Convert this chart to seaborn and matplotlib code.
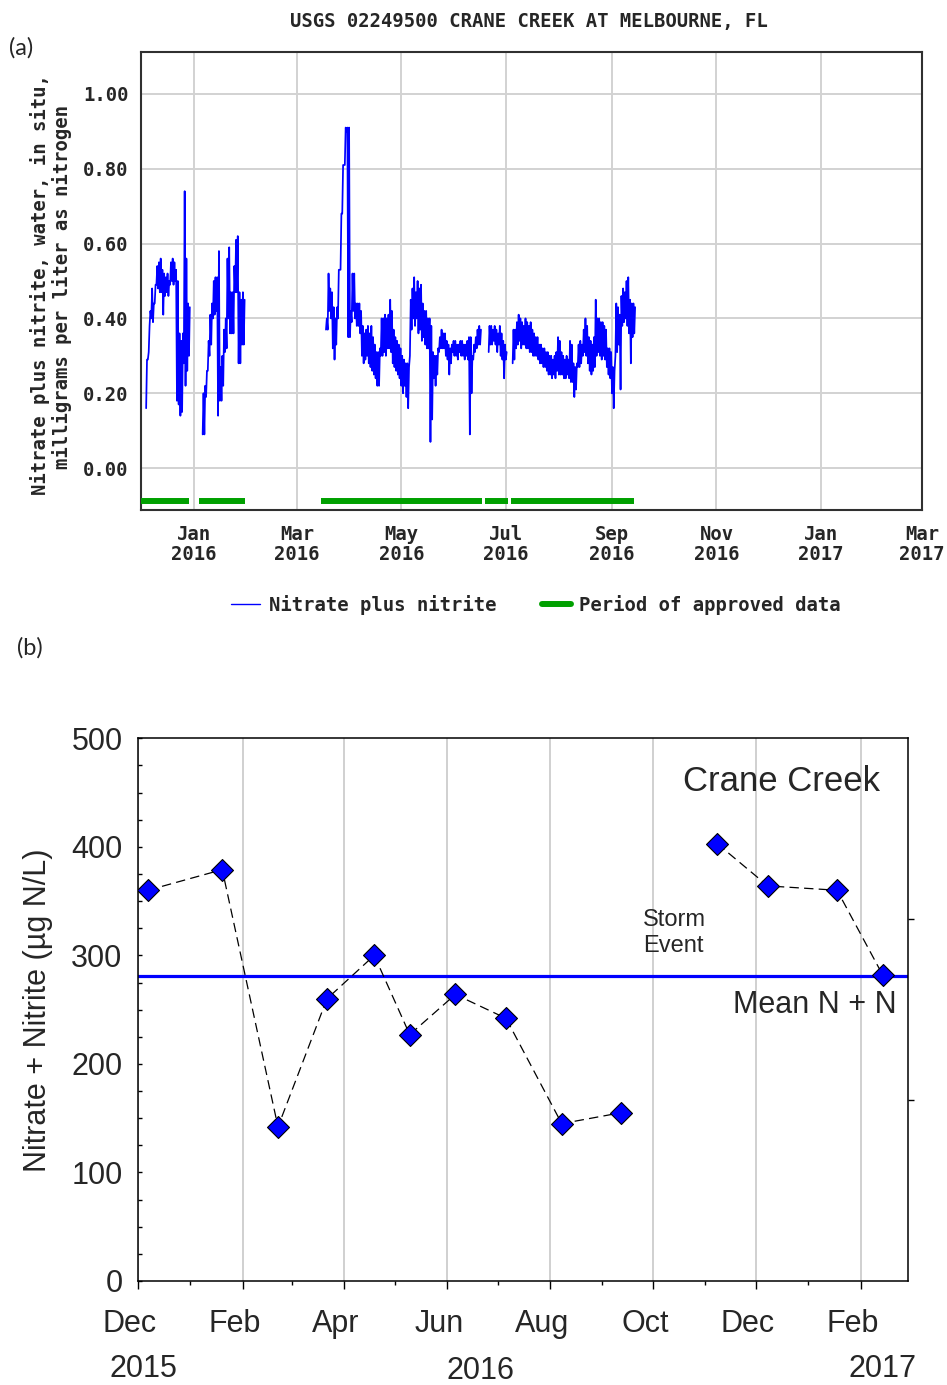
import matplotlib
matplotlib.use("Agg")
import matplotlib.pyplot as plt
import matplotlib.transforms as mtransforms
from matplotlib.lines import Line2D
from matplotlib.ticker import FixedLocator, NullFormatter, MultipleLocator
import pandas as pd
import seaborn as sns

# ============ Panel (a): USGS continuous nitrate + nitrite record ============
site_title = "USGS 02249500 CRANE CREEK AT MELBOURNE, FL"
ylabel_a = ["Nitrate plus nitrite, water, in situ,", "milligrams per liter as nitrogen"]

# daily low / high of the 15-minute record (mg/L as N), one entry per day
seg_starts = ["2015-12-04", "2016-01-06", "2016-03-18", "2016-06-21", "2016-07-05"]

seg1_low = [0.16, 0.29, 0.38, 0.40, 0.39, 0.44, 0.49, 0.48, 0.47, 0.47, 0.41, 0.46, 0.47,
            0.46, 0.49, 0.50, 0.49, 0.50, 0.18, 0.17, 0.14, 0.15, 0.28, 0.22, 0.26, 0.30]
seg1_high = [0.29, 0.31, 0.42, 0.48, 0.44, 0.49, 0.54, 0.55, 0.56, 0.53, 0.52, 0.51, 0.52,
             0.50, 0.55, 0.56, 0.55, 0.53, 0.50, 0.36, 0.34, 0.36, 0.74, 0.56, 0.44, 0.43]

seg2_low = [0.09, 0.09, 0.19, 0.26, 0.30, 0.33, 0.40, 0.41, 0.42, 0.14, 0.18, 0.18, 0.22,
            0.31, 0.32, 0.40, 0.36, 0.36, 0.36, 0.47, 0.47, 0.28, 0.28, 0.33, 0.33]
seg2_high = [0.20, 0.22, 0.26, 0.34, 0.41, 0.44, 0.50, 0.51, 0.51, 0.58, 0.27, 0.30, 0.37,
             0.40, 0.56, 0.59, 0.47, 0.47, 0.54, 0.61, 0.62, 0.47, 0.45, 0.47, 0.45]

seg3_low = [0.37, 0.37, 0.42, 0.40, 0.32, 0.29, 0.33, 0.40, 0.53, 0.68, 0.81, 0.81, 0.90,
            0.35, 0.35, 0.39, 0.42, 0.40, 0.38, 0.38, 0.36, 0.30, 0.28, 0.29, 0.30, 0.28,
            0.27, 0.26, 0.25, 0.24, 0.22, 0.22, 0.30, 0.30, 0.31, 0.30, 0.32, 0.32, 0.31,
            0.28, 0.27, 0.26, 0.25, 0.24, 0.22, 0.20, 0.22, 0.19, 0.16, 0.30, 0.37, 0.40,
            0.38, 0.40, 0.36, 0.37, 0.34, 0.35, 0.33, 0.32, 0.32, 0.07, 0.13, 0.24, 0.22,
            0.25, 0.31, 0.32, 0.32, 0.32, 0.30, 0.29, 0.25, 0.28, 0.31, 0.30, 0.30, 0.29,
            0.31, 0.30, 0.30, 0.29, 0.30, 0.29, 0.09, 0.20, 0.29, 0.31, 0.32, 0.33, 0.33]
seg3_high = [0.40, 0.52, 0.48, 0.47, 0.43, 0.40, 0.43, 0.53, 0.53, 0.68, 0.81, 0.91, 0.91,
             0.91, 0.42, 0.52, 0.52, 0.44, 0.44, 0.44, 0.42, 0.38, 0.36, 0.37, 0.38, 0.36,
             0.38, 0.35, 0.33, 0.31, 0.31, 0.32, 0.40, 0.40, 0.41, 0.40, 0.41, 0.45, 0.42,
             0.37, 0.35, 0.34, 0.33, 0.32, 0.30, 0.29, 0.28, 0.28, 0.27, 0.45, 0.48, 0.51,
             0.47, 0.50, 0.48, 0.49, 0.44, 0.42, 0.42, 0.40, 0.40, 0.38, 0.31, 0.30, 0.30,
             0.32, 0.35, 0.37, 0.36, 0.36, 0.34, 0.33, 0.32, 0.33, 0.34, 0.34, 0.33, 0.33,
             0.34, 0.34, 0.33, 0.33, 0.34, 0.35, 0.35, 0.30, 0.33, 0.35, 0.37, 0.38, 0.37]

seg4_low = [0.31, 0.33, 0.33, 0.34, 0.33, 0.31, 0.33, 0.30, 0.29, 0.24, 0.29]
seg4_high = [0.38, 0.38, 0.37, 0.38, 0.37, 0.36, 0.38, 0.36, 0.34, 0.33, 0.31]

seg5_low = [0.28, 0.29, 0.32, 0.33, 0.34, 0.32, 0.33, 0.33, 0.32, 0.32, 0.31, 0.31, 0.30,
            0.30, 0.30, 0.29, 0.28, 0.28, 0.27, 0.27, 0.26, 0.25, 0.25, 0.24, 0.25, 0.24,
            0.26, 0.25, 0.25, 0.25, 0.24, 0.24, 0.25, 0.24, 0.23, 0.23, 0.19, 0.21, 0.27,
            0.27, 0.28, 0.30, 0.31, 0.30, 0.28, 0.26, 0.25, 0.26, 0.27, 0.30, 0.31, 0.30,
            0.29, 0.30, 0.29, 0.27, 0.25, 0.24, 0.20, 0.16, 0.30, 0.31, 0.33, 0.21, 0.38,
            0.39, 0.40, 0.38, 0.36, 0.28, 0.35, 0.36]
seg5_high = [0.37, 0.37, 0.39, 0.41, 0.40, 0.39, 0.38, 0.40, 0.39, 0.38, 0.39, 0.37, 0.36,
             0.35, 0.35, 0.33, 0.33, 0.32, 0.32, 0.31, 0.31, 0.30, 0.30, 0.29, 0.30, 0.31,
             0.35, 0.34, 0.31, 0.30, 0.29, 0.30, 0.29, 0.34, 0.33, 0.28, 0.27, 0.28, 0.33,
             0.34, 0.33, 0.37, 0.40, 0.38, 0.35, 0.34, 0.33, 0.35, 0.45, 0.40, 0.40, 0.39,
             0.39, 0.38, 0.37, 0.32, 0.32, 0.31, 0.27, 0.26, 0.44, 0.43, 0.41, 0.46, 0.48,
             0.47, 0.50, 0.51, 0.45, 0.44, 0.44, 0.43]

approved_start = ["2015-12-01", "2016-01-04", "2016-03-15", "2016-06-19", "2016-07-04"]
approved_end = ["2015-12-29", "2016-01-31", "2016-06-17", "2016-07-02", "2016-09-14"]

a_xticks = ["2016-01-01", "2016-03-01", "2016-05-01", "2016-07-01", "2016-09-01",
            "2016-11-01", "2017-01-01", "2017-03-01"]
a_xticklabels = ["Jan\n2016", "Mar\n2016", "May\n2016", "Jul\n2016", "Sep\n2016",
                 "Nov\n2016", "Jan\n2017", "Mar\n2017"]
a_yticks = [0.0, 0.2, 0.4, 0.6, 0.8, 1.0]
a_yticklabels = ["0.00", "0.20", "0.40", "0.60", "0.80", "1.00"]
legend_a = ["Nitrate plus nitrite", "Period of approved data"]

# ============ Panel (b): grab samples ============
sample_dates = ["2015-12-07", "2016-01-20", "2016-02-22", "2016-03-22", "2016-04-19",
                "2016-05-10", "2016-06-06", "2016-07-06", "2016-08-08", "2016-09-12",
                "2016-11-08", "2016-12-08", "2017-01-18", "2017-02-14"]
nn_ug = [360, 379, 142, 260, 300, 227, 264, 242, 145, 155, 403, 364, 360, 282]
sample_run = [1] * 10 + [2] * 4
mean_nn = 281

b_major = ["2015-12-01", "2016-02-01", "2016-04-01", "2016-06-01", "2016-08-01",
           "2016-10-01", "2016-12-01", "2017-02-01"]
b_major_labels = ["Dec", "Feb", "Apr", "Jun", "Aug", "Oct", "Dec", "Feb"]
b_minor = ["2016-01-01", "2016-03-01", "2016-05-01", "2016-07-01", "2016-09-01",
           "2016-11-01", "2017-01-01"]
b_years = ["2015", "2016", "2017"]
b_yticks = [0, 100, 200, 300, 400, 500]
b_ylabel = "Nitrate + Nitrite (µg N/L)"

# ============ figure ============
sns.set_theme(style="white")
plt.rcParams["font.family"] = ["Liberation Sans", "DejaVu Sans"]

W, H = 947, 1385
fig = plt.figure(figsize=(W / 100, H / 100), dpi=100)


def px_axes(l, t, r, b):
    return fig.add_axes([l / W, 1 - b / H, (r - l) / W, (b - t) / H])


def ftext(x, y, s, **kw):
    return fig.text(x / W, 1 - y / H, s, **kw)


MONO = dict(family="DejaVu Sans Mono", fontweight="bold", fontsize=13.6)
BLUE = "#0000ff"
GREEN = "#00a000"

# ---------- panel (a) ----------
axA = px_axes(141, 52, 922, 510)
rows = []
segs = [(seg1_low, seg1_high), (seg2_low, seg2_high), (seg3_low, seg3_high),
        (seg4_low, seg4_high), (seg5_low, seg5_high)]
for k, (start, (lo, hi)) in enumerate(zip(seg_starts, segs)):
    t0 = pd.Timestamp(start)
    for i, (a, b) in enumerate(zip(lo, hi)):
        rows.append((t0 + pd.Timedelta(days=i), a, k))
        rows.append((t0 + pd.Timedelta(days=i, hours=12), b, k))
dfA = pd.DataFrame(rows, columns=["time", "value", "seg"])
sns.lineplot(data=dfA, x="time", y="value", units="seg", estimator=None, sort=False,
             color=BLUE, lw=1.25, ax=axA, zorder=3)

axA.hlines([-0.088] * len(approved_start), pd.to_datetime(approved_start),
           pd.to_datetime(approved_end), color=GREEN, lw=4.3, zorder=3)

axA.set_xlim(pd.Timestamp("2015-12-01"), pd.Timestamp("2017-03-01"))
axA.set_ylim(-0.112, 1.112)
axA.set_xticks(pd.to_datetime(a_xticks))
axA.set_xticklabels(a_xticklabels, linespacing=1.12, **MONO)
axA.set_yticks(a_yticks)
axA.set_yticklabels(a_yticklabels, **MONO)
axA.tick_params(axis="both", length=0)
axA.tick_params(axis="x", pad=10.5)
axA.tick_params(axis="y", pad=9)
axA.grid(True, color="#d2d2d2", lw=1.4)
axA.set_axisbelow(True)
axA.set_xlabel("")
axA.set_ylabel("")
for sp in axA.spines.values():
    sp.set_visible(True)
    sp.set_color("#303030")
    sp.set_linewidth(1.5)

ftext(529, 21, site_title, ha="center", va="center", **MONO)
ftext(40, 285, ylabel_a[0], rotation=90, ha="center", va="center", **MONO)
ftext(62, 287, ylabel_a[1], rotation=90, ha="center", va="center", **MONO)
ftext(9, 48, "(a)", ha="left", va="center", fontsize=17, family="Lato")

handles = [Line2D([], [], color=BLUE, lw=1.0), Line2D([], [], color=GREEN, lw=4.3)]
fig.legend(handles, legend_a, loc="center", bbox_to_anchor=(536 / W, 1 - 605 / H),
           ncol=2, frameon=False, handlelength=1.55, handletextpad=0.45,
           columnspacing=2.4, prop=dict(family="DejaVu Sans Mono", weight="bold", size=13.6))

# ---------- panel (b) ----------
ftext(17, 648, "(b)", ha="left", va="center", fontsize=17, family="Lato")

axB = px_axes(137.8, 738.3, 908, 1281)
dfB = pd.DataFrame({"date": pd.to_datetime(sample_dates), "nn": nn_ug, "run": sample_run})
axB.axhline(mean_nn, color=BLUE, lw=2.3, zorder=2)
sns.lineplot(data=dfB, x="date", y="nn", units="run", estimator=None, sort=False,
             color="black", lw=0.9, ls=(0, (7.5, 4.2)), ax=axB, zorder=3)
sns.scatterplot(data=dfB, x="date", y="nn", marker="D", s=125, color=BLUE,
                edgecolor="black", linewidth=0.8, ax=axB, zorder=4)

axB.set_xlim(pd.Timestamp("2015-12-01"), pd.Timestamp("2017-03-01"))
axB.set_ylim(0, 500)
axB.set_xticks(pd.to_datetime(b_major))
axB.set_xticklabels(b_major_labels, fontsize=22)
axB.xaxis.set_minor_locator(FixedLocator(
    [matplotlib.dates.date2num(pd.Timestamp(d)) for d in b_minor]))
axB.set_yticks(b_yticks)
axB.set_yticklabels([str(v) for v in b_yticks], fontsize=22)
axB.yaxis.set_minor_locator(MultipleLocator(25))
axB.tick_params(axis="x", which="major", direction="out", length=6, width=1,
                color="black", pad=14.5, bottom=True)
axB.tick_params(axis="x", which="minor", direction="out", length=3, width=1,
                color="black", bottom=True)
axB.tick_params(axis="y", which="both", direction="in", length=3, width=1,
                color="black", pad=11, left=True)
axB.grid(True, axis="x", which="major", color="#c8c8c8", lw=1.2)
axB.set_axisbelow(True)
axB.set_xlabel("")
axB.set_ylabel("")
for sp in axB.spines.values():
    sp.set_visible(True)
    sp.set_color("black")
    sp.set_linewidth(1.1)

off = mtransforms.ScaledTranslation(-8 / 100, 0, fig.dpi_scale_trans)
for lab in axB.get_xticklabels():
    lab.set_transform(lab.get_transform() + off)

axR = axB.twinx()
axR.set_ylim(0, 3)
axR.set_yticks([1, 2])
axR.yaxis.set_major_formatter(NullFormatter())
axR.tick_params(axis="y", direction="out", length=4.3, width=1, color="black", right=True)
axR.grid(False)
for sp in axR.spines.values():
    sp.set_visible(False)

ftext(683, 791, "Crane Creek", ha="left", va="baseline", fontsize=25)
ftext(643, 926, "Storm", ha="left", va="baseline", fontsize=17)
ftext(643, 952, "Event", ha="left", va="baseline", fontsize=17)
ftext(733, 1013, "Mean N + N", ha="left", va="baseline", fontsize=22)
ftext(38, 1010, b_ylabel, rotation=90, ha="center", va="center", fontsize=22)
ftext(143, 1377, b_years[0], ha="center", va="baseline", fontsize=22)
ftext(480, 1379, b_years[1], ha="center", va="baseline", fontsize=22)
ftext(882, 1377, b_years[2], ha="center", va="baseline", fontsize=22)

fig.savefig("out.png", dpi=100)
